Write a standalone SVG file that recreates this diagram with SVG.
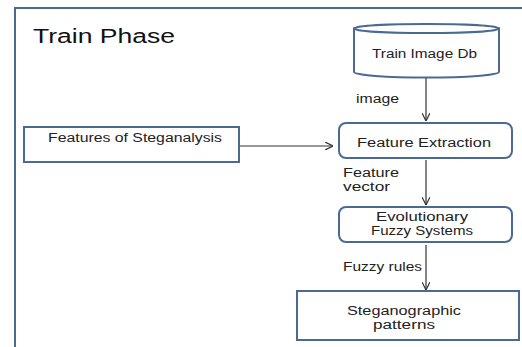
<svg xmlns="http://www.w3.org/2000/svg" width="522" height="347" viewBox="0 0 522 347">
<defs>
<marker id="ah" viewBox="0 0 10 10" refX="10" refY="5" markerWidth="8" markerHeight="8" markerUnits="userSpaceOnUse" orient="auto">
<path d="M0,0 L10,5 L0,10" fill="none" stroke="#333" stroke-width="1.5"/>
</marker>
<style>
.box{fill:#fff;stroke:#4a6a94;stroke-width:2}
.frame{fill:#fff;stroke:#4a6a94;stroke-width:2}
.t{font-family:"Liberation Sans",Arial,sans-serif;font-size:12px;fill:#222}
.conn{stroke:#333;stroke-width:1.2;fill:none;marker-end:url(#ah)}
</style>
</defs>
<rect width="522" height="347" fill="#fff"/>
<g id="frame">
<rect class="frame" x="15" y="8" width="520" height="350"/>
<text x="33" y="43" font-family="Liberation Sans,Arial,sans-serif" font-size="20" fill="#111" textLength="142" lengthAdjust="spacingAndGlyphs">Train Phase</text>
</g>
<g id="connectors">
<line class="conn" x1="426" y1="78" x2="426" y2="121"/>
<line class="conn" x1="240" y1="146" x2="333" y2="146"/>
<line class="conn" x1="426" y1="160" x2="426" y2="205"/>
<line class="conn" x1="426" y1="245" x2="426" y2="290"/>
<text class="t" x="356" y="103" textLength="43" lengthAdjust="spacingAndGlyphs">image</text>
<text class="t" x="343" y="177" textLength="56" lengthAdjust="spacingAndGlyphs">Feature</text>
<text class="t" x="343" y="191" textLength="47" lengthAdjust="spacingAndGlyphs">vector</text>
<text class="t" x="343" y="271" textLength="79" lengthAdjust="spacingAndGlyphs">Fuzzy rules</text>
</g>
<g id="train-image-db">
<path class="box" d="M354,28.5 L354,72 A72.5,5.5 0 0 0 499,72 L499,28.5 Z"/>
<ellipse class="box" cx="426.5" cy="28.5" rx="72.5" ry="4.5"/>
<text class="t" x="372" y="58" textLength="105" lengthAdjust="spacingAndGlyphs">Train Image Db</text>
</g>
<g id="features-of-steganalysis">
<rect class="box" x="24" y="127" width="215" height="35"/>
<text class="t" x="48" y="142" textLength="174" lengthAdjust="spacingAndGlyphs">Features of Steganalysis</text>
</g>
<g id="feature-extraction">
<rect class="box" x="339" y="123" width="173" height="35" rx="7"/>
<text class="t" x="357" y="147" textLength="134" lengthAdjust="spacingAndGlyphs">Feature Extraction</text>
</g>
<g id="evolutionary-fuzzy-systems">
<rect class="box" x="339" y="207" width="173" height="35" rx="7"/>
<text class="t" x="376" y="221" textLength="92" lengthAdjust="spacingAndGlyphs">Evolutionary</text>
<text class="t" x="371" y="235" textLength="102" lengthAdjust="spacingAndGlyphs">Fuzzy Systems</text>
</g>
<g id="steganographic-patterns">
<rect class="box" x="297" y="291" width="222" height="49"/>
<text class="t" x="347" y="315" textLength="114" lengthAdjust="spacingAndGlyphs">Steganographic</text>
<text class="t" x="373" y="329" textLength="62" lengthAdjust="spacingAndGlyphs">patterns</text>
</g>
</svg>
